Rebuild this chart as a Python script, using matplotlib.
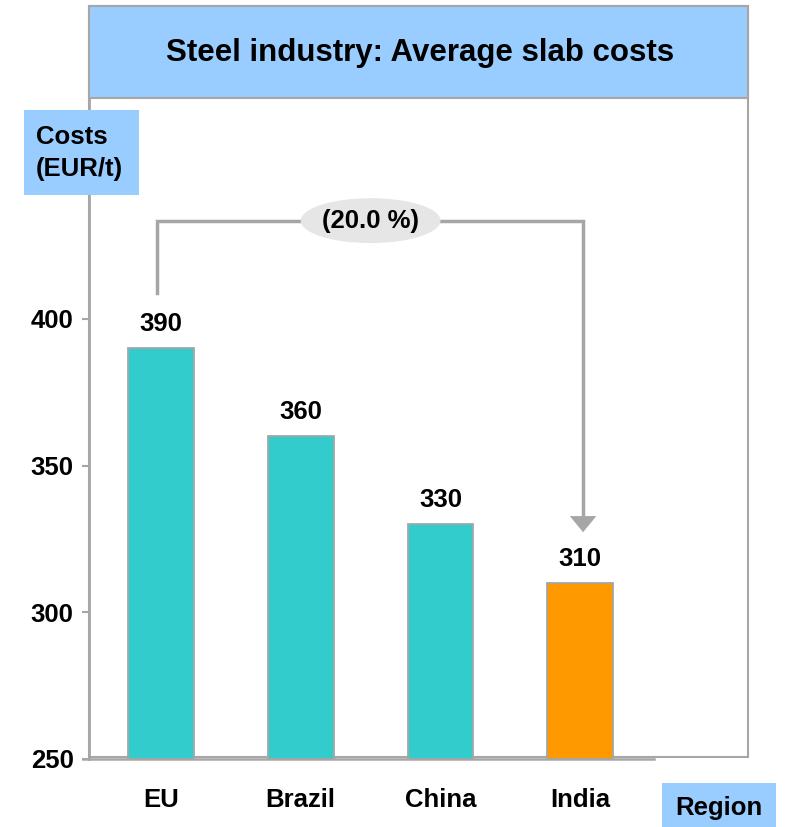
import matplotlib
matplotlib.use("Agg")
import matplotlib.pyplot as plt
from matplotlib.patches import Rectangle, Ellipse

plt.rcParams['font.family'] = ['Liberation Sans', 'DejaVu Sans']
plt.rcParams['font.weight'] = 'bold'

regions = ["EU", "Brazil", "China", "India"]
costs = [390, 360, 330, 310]
bar_colors = ["#33CCCC", "#33CCCC", "#33CCCC", "#FF9900"]
yticks = [250, 300, 350, 400]
gap_label = "(20.0 %)"

GRAY = "#A6A6A6"
BLUE = "#99CCFF"
W, H = 785, 827
FS = 18.5

fig = plt.figure(figsize=(W / 100, H / 100), dpi=100)


def fx(x):
    return x / W


def fy(y):
    return 1 - y / H


# outer frame and title banner
fig.patches.append(Rectangle((fx(89), fy(757)), fx(748) - fx(89), fy(6) - fy(757),
                             transform=fig.transFigure, facecolor="white",
                             edgecolor=GRAY, lw=1.5, zorder=-2))
fig.patches.append(Rectangle((fx(89), fy(98)), fx(748) - fx(89), fy(6) - fy(98),
                             transform=fig.transFigure, facecolor=BLUE,
                             edgecolor=GRAY, lw=1.5, zorder=-1))
fig.text(fx(420), fy(53), "Steel industry: Average slab costs", ha="center",
         va="center", fontsize=22.5, fontweight="bold")

ax = fig.add_axes([fx(89), fy(759), fx(748) - fx(89), fy(98) - fy(759)])
ax.patch.set_alpha(0)
ax.set_xlim(-0.515, 4.2)
ax.set_ylim(250, 475.3)

x = list(range(len(regions)))
ax.bar(x, [c - 250 for c in costs], bottom=250, width=0.47, color=bar_colors,
       edgecolor=GRAY, linewidth=1.3, zorder=3)

for xi, c in zip(x, costs):
    ax.annotate(str(c), (xi, c), xytext=(0, 17.5), textcoords="offset points",
                ha="center", va="center", fontsize=FS, fontweight="bold")

for s in ["top", "right"]:
    ax.spines[s].set_visible(False)
ax.spines["left"].set_color(GRAY)
ax.spines["left"].set_linewidth(2)
ax.spines["bottom"].set_color(GRAY)
ax.spines["bottom"].set_linewidth(1.8)
ax.spines["bottom"].set_bounds(-0.557, 3.53)

ax.set_yticks(yticks)
ax.set_yticklabels([str(t) for t in yticks])
ax.tick_params(axis="y", length=5, width=1.5, color=GRAY, pad=6, labelsize=FS)
ax.set_xticks(x)
ax.set_xticklabels(regions)
ax.tick_params(axis="x", length=0, pad=21, labelsize=FS)
for lab in ax.get_xticklabels() + ax.get_yticklabels():
    lab.set_fontweight("bold")

# bracket showing the gap between EU and India
top = 433.5
left_end = costs[0] + 19
tip = costs[-1] + 17.3
head_h = 5.5
head_w = 0.095
ax.plot([x[0] - 0.03, x[0] - 0.03, x[-1] + 0.02, x[-1] + 0.02],
        [left_end, top, top, tip + head_h], color=GRAY, lw=2.5,
        solid_joinstyle="miter", zorder=4, clip_on=False)
ax.fill([x[-1] + 0.02 - head_w, x[-1] + 0.02 + head_w, x[-1] + 0.02],
        [tip + head_h, tip + head_h, tip], color=GRAY, zorder=4, lw=0)
ax.add_patch(Ellipse(((x[0] + x[-1]) / 2, top), 1.0, 15.3, facecolor="#E6E6E6",
                     edgecolor="none", zorder=5))
ax.text((x[0] + x[-1]) / 2, top, gap_label, ha="center", va="center",
        fontsize=FS, fontweight="bold", zorder=6)

# axis title boxes
fig.patches.append(Rectangle((fx(24), fy(195)), fx(139) - fx(24), fy(110) - fy(195),
                             transform=fig.transFigure, facecolor=BLUE,
                             edgecolor="none", zorder=2))
fig.text(fx(36), fy(153), "Costs\n(EUR/t)", ha="left", va="center",
         fontsize=FS, fontweight="bold", linespacing=1.38, zorder=3)
fig.patches.append(Rectangle((fx(662), fy(827)), fx(776) - fx(662), fy(783) - fy(827),
                             transform=fig.transFigure, facecolor=BLUE,
                             edgecolor="none", zorder=2))
fig.text(fx(719), fy(808), "Region", ha="center", va="center",
         fontsize=FS, fontweight="bold", zorder=3)

fig.savefig("out.png", dpi=100)
